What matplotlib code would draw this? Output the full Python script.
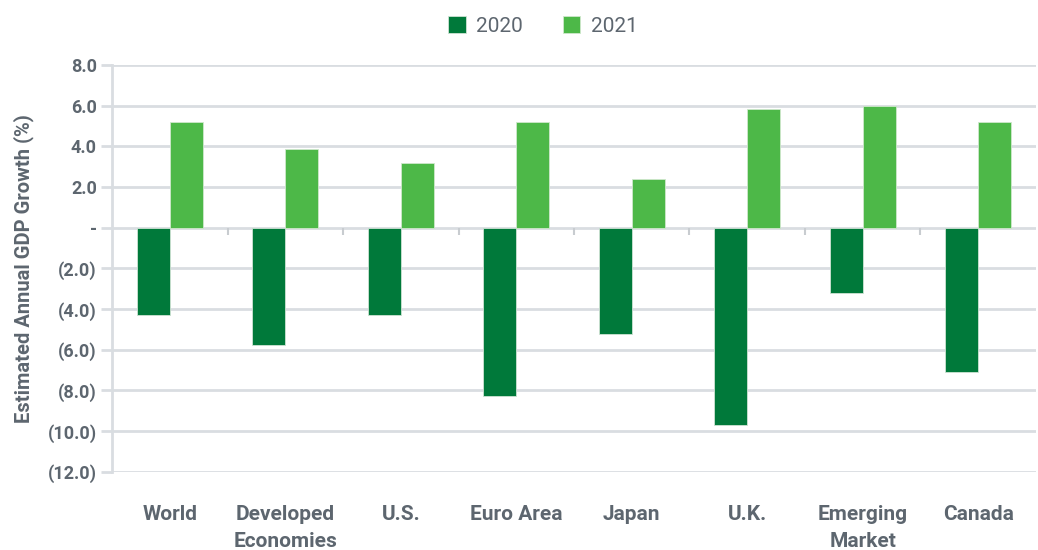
import matplotlib.pyplot as plt
import numpy as np

regions = ['World', 'Developed\nEconomies', 'U.S.', 'Euro Area', 'Japan', 'U.K.', 'Emerging\nMarket', 'Canada']
gdp_2020 = [-4.3, -5.75, -4.3, -8.25, -5.2, -9.7, -3.2, -7.1]
gdp_2021 = [5.2, 3.85, 3.2, 5.2, 2.4, 5.85, 6.0, 5.2]
yticks = [8, 6, 4, 2, 0, -2, -4, -6, -8, -10, -12]

dark = '#00793a'
light = '#4db848'
grey_txt = '#5d666f'
grid_c = '#d9dde1'

plt.rcParams['font.family'] = ['Roboto', 'DejaVu Sans']

fig = plt.figure(figsize=(10.38, 5.5), dpi=100)
ax = fig.add_axes([0.108, 0.142, 0.890, 0.740])

x = np.arange(len(regions))
w = 0.285
ax.bar(x - w / 2, gdp_2020, w, color=dark, edgecolor='#cfe3d4', linewidth=0.6, label='2020', zorder=3)
ax.bar(x + w / 2, gdp_2021, w, color=light, edgecolor='#cfe8cc', linewidth=0.6, label='2021', zorder=3)

ax.set_xlim(-0.5, len(regions) - 0.5)
ax.set_ylim(-12, 8)

def fmt(v):
    if v == 0:
        return '-'
    if v < 0:
        return '(%.1f)' % abs(v)
    return '%.1f' % v

ax.set_yticks(yticks)
ax.set_yticklabels([fmt(v) for v in yticks])
ax.grid(axis='y', color=grid_c, linewidth=2, zorder=0)
ax.tick_params(axis='y', length=8, width=2, color=grid_c, labelcolor=grey_txt, labelsize=13, pad=3)
for t in ax.get_yticklabels():
    t.set_fontweight('bold')

ax.set_xticks(x)
ax.set_xticklabels(regions, fontsize=15, fontweight='bold', color=grey_txt, va='top', linespacing=1.55)
ax.tick_params(axis='x', length=0, pad=24)

# small separator ticks on the zero line
ax.vlines(x[:-1] + 0.5, -0.35, 0, color='#c8ccd0', linewidth=1.5, zorder=2)

for s in ['top', 'right', 'bottom']:
    ax.spines[s].set_visible(False)
ax.spines['left'].set_color(grid_c)
ax.spines['left'].set_linewidth(2)

ax.set_ylabel('Estimated Annual GDP Growth (%)', fontsize=14.5, fontweight='bold', color=grey_txt, labelpad=10)

leg = fig.legend(loc='upper center', bbox_to_anchor=(0.523, 1.005), ncol=2, frameon=False,
                 fontsize=15, handlelength=0.85, handleheight=0.85, columnspacing=1.9, handletextpad=0.5)
for t in leg.get_texts():
    t.set_color(grey_txt)

fig.savefig('out.png', dpi=100)
